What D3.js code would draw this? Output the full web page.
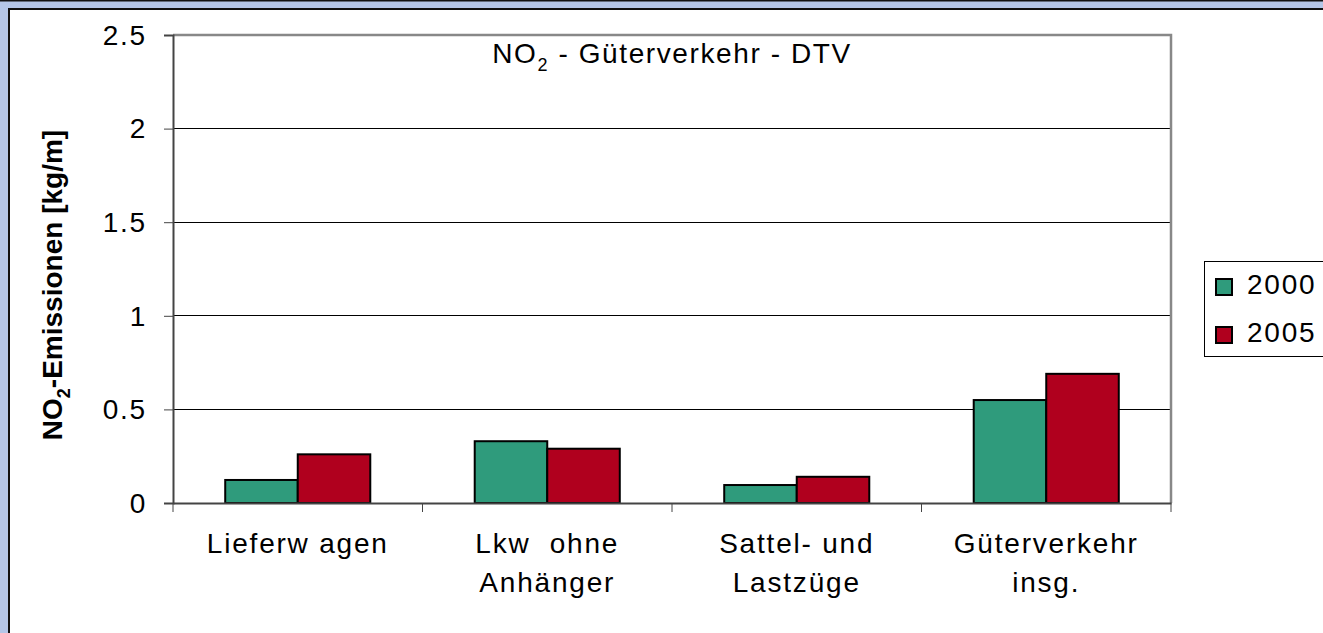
<!DOCTYPE html>
<html>
<head>
<meta charset="utf-8">
<script src="https://cdn.jsdelivr.net/npm/d3@7"></script>
<style>
  html, body { margin: 0; padding: 0; background: #fff; }
  svg { display: block; }
  text { font-family: "Liberation Sans", Arial, sans-serif; }
</style>
</head>
<body>
<svg id="chart" width="1323" height="633"></svg>
<script>
const categories = [["Lieferw agen"], ["Lkw  ohne", "Anhänger"], ["Sattel- und", "Lastzüge"], ["Güterverkehr", "insg."]];
const categoryKeys = ["Lieferwagen", "Lkw ohne Anhänger", "Sattel- und Lastzüge", "Güterverkehr insg."];
const seriesNames = ["2000", "2005"];
const values2000 = [0.123, 0.33, 0.096, 0.55];
const values2005 = [0.26, 0.29, 0.14, 0.69];
const yTicks = [0, 0.5, 1, 1.5, 2, 2.5];
const colors = ["#2f9b7c", "#b0001e"];

const svg = d3.select("#chart");
const W = 1323, H = 633;

// Outer frame
svg.append("rect").attr("x", 0).attr("y", 0).attr("width", W).attr("height", H).attr("fill", "#b4c6e7");
svg.append("rect").attr("x", 0).attr("y", 0).attr("width", W).attr("height", 1.5).attr("fill", "#111");
svg.append("rect").attr("x", 8).attr("y", 8).attr("width", W).attr("height", H).attr("fill", "#111");
svg.append("rect").attr("x", 10).attr("y", 10).attr("width", W).attr("height", H).attr("fill", "#fff");

const L = 173, R = 1171, T = 35, B = 503;
const x0 = d3.scaleBand().domain(categoryKeys).range([L, R]).padding(0);
const x1 = d3.scaleBand().domain(seriesNames).range([0, x0.bandwidth()]).paddingInner(0).paddingOuter(0.72);
const y = d3.scaleLinear().domain([0, 2.5]).range([B, T]);

// Gridlines
svg.append("g").selectAll("line").data(yTicks.filter(t => t > 0 && t < 2.5)).join("line")
  .attr("x1", L).attr("x2", R).attr("y1", d => y(d)).attr("y2", d => y(d))
  .attr("stroke", "#000").attr("stroke-width", 1).attr("shape-rendering", "crispEdges");

// Plot top/right border
svg.append("path").attr("d", `M${L},${T} H${R} V${B}`).attr("fill", "none")
  .attr("stroke", "#888").attr("stroke-width", 2.5);

// Bars
const data = categoryKeys.map((c, i) => ({ c, vals: [values2000[i], values2005[i]] }));
const groups = svg.append("g").selectAll("g").data(data).join("g")
  .attr("transform", d => `translate(${x0(d.c)},0)`);
groups.selectAll("rect").data(d => d.vals.map((v, j) => ({ s: seriesNames[j], v, j }))).join("rect")
  .attr("x", d => x1(d.s)).attr("width", x1.bandwidth())
  .attr("y", d => y(d.v)).attr("height", d => y(0) - y(d.v))
  .attr("fill", d => colors[d.j]).attr("stroke", "#000").attr("stroke-width", 2);

// Y axis
const yAxis = d3.axisLeft(y).tickValues(yTicks).tickFormat(d3.format("")).tickSize(9).tickPadding(17);
const gy = svg.append("g").attr("transform", `translate(${L},0)`).call(yAxis);
gy.select(".domain").attr("stroke", "#444").attr("stroke-width", 2);
gy.selectAll(".tick line").attr("stroke", "#444");
gy.selectAll(".tick text").attr("font-size", 28).attr("fill", "#000")
  .attr("font-family", "Liberation Sans, Arial, sans-serif").style("letter-spacing", "1.8px").attr("dy", "0.33em");

// X axis
const xAxis = d3.axisBottom(x0).tickSize(0).tickFormat("");
const gx = svg.append("g").attr("transform", `translate(0,${B})`).call(xAxis);
gx.select(".domain").attr("stroke", "#444").attr("stroke-width", 2);
gx.selectAll(".tick").remove();
svg.append("g").selectAll("line").data(categoryKeys.map(c => x0(c)).concat([R])).join("line")
  .attr("x1", d => d).attr("x2", d => d).attr("y1", B).attr("y2", B + 9)
  .attr("stroke", "#444").attr("stroke-width", 1);

// Category labels
const lab = svg.append("g").selectAll("text").data(categories).join("text")
  .attr("font-size", 28).attr("fill", "#000").attr("text-anchor", "middle")
  .style("letter-spacing", "1.8px").style("white-space", "pre")
  .attr("transform", (d, i) => `translate(${x0(categoryKeys[i]) + x0.bandwidth() / 2},553)`);
lab.selectAll("tspan").data(d => d).join("tspan")
  .attr("x", 0).attr("y", (d, i) => i * 39).text(d => d);

// Title
const title = svg.append("text").attr("x", (L + R) / 2).attr("y", 63).attr("text-anchor", "middle")
  .attr("font-size", 28).style("letter-spacing", "1.6px");
title.append("tspan").text("NO");
title.append("tspan").attr("font-size", 18).attr("dy", 8).text("2");
title.append("tspan").attr("dy", -8).text(" - Güterverkehr - DTV");

// Y axis title
const yt = svg.append("text").attr("transform", "translate(62,285) rotate(-90)")
  .attr("text-anchor", "middle").attr("font-size", 28).attr("font-weight", "bold");
yt.append("tspan").text("NO");
yt.append("tspan").attr("font-size", 18).attr("dy", 8).text("2");
yt.append("tspan").attr("dy", -8).text("-Emissionen [kg/m]");

// Legend
const lg = svg.append("g");
lg.append("rect").attr("x", 1204.5).attr("y", 261.5).attr("width", 140).attr("height", 95)
  .attr("fill", "#fff").attr("stroke", "#000").attr("stroke-width", 1);
const li = lg.selectAll("g").data(seriesNames).join("g")
  .attr("transform", (d, i) => `translate(0,${i * 48})`);
li.append("rect").attr("x", 1216).attr("y", 279).attr("width", 16).attr("height", 16)
  .attr("fill", (d, i) => colors[i]).attr("stroke", "#000").attr("stroke-width", 2);
li.append("text").attr("x", 1247).attr("y", 294).attr("font-size", 28)
  .style("letter-spacing", "1.8px").text(d => d);
</script>
</body>
</html>
